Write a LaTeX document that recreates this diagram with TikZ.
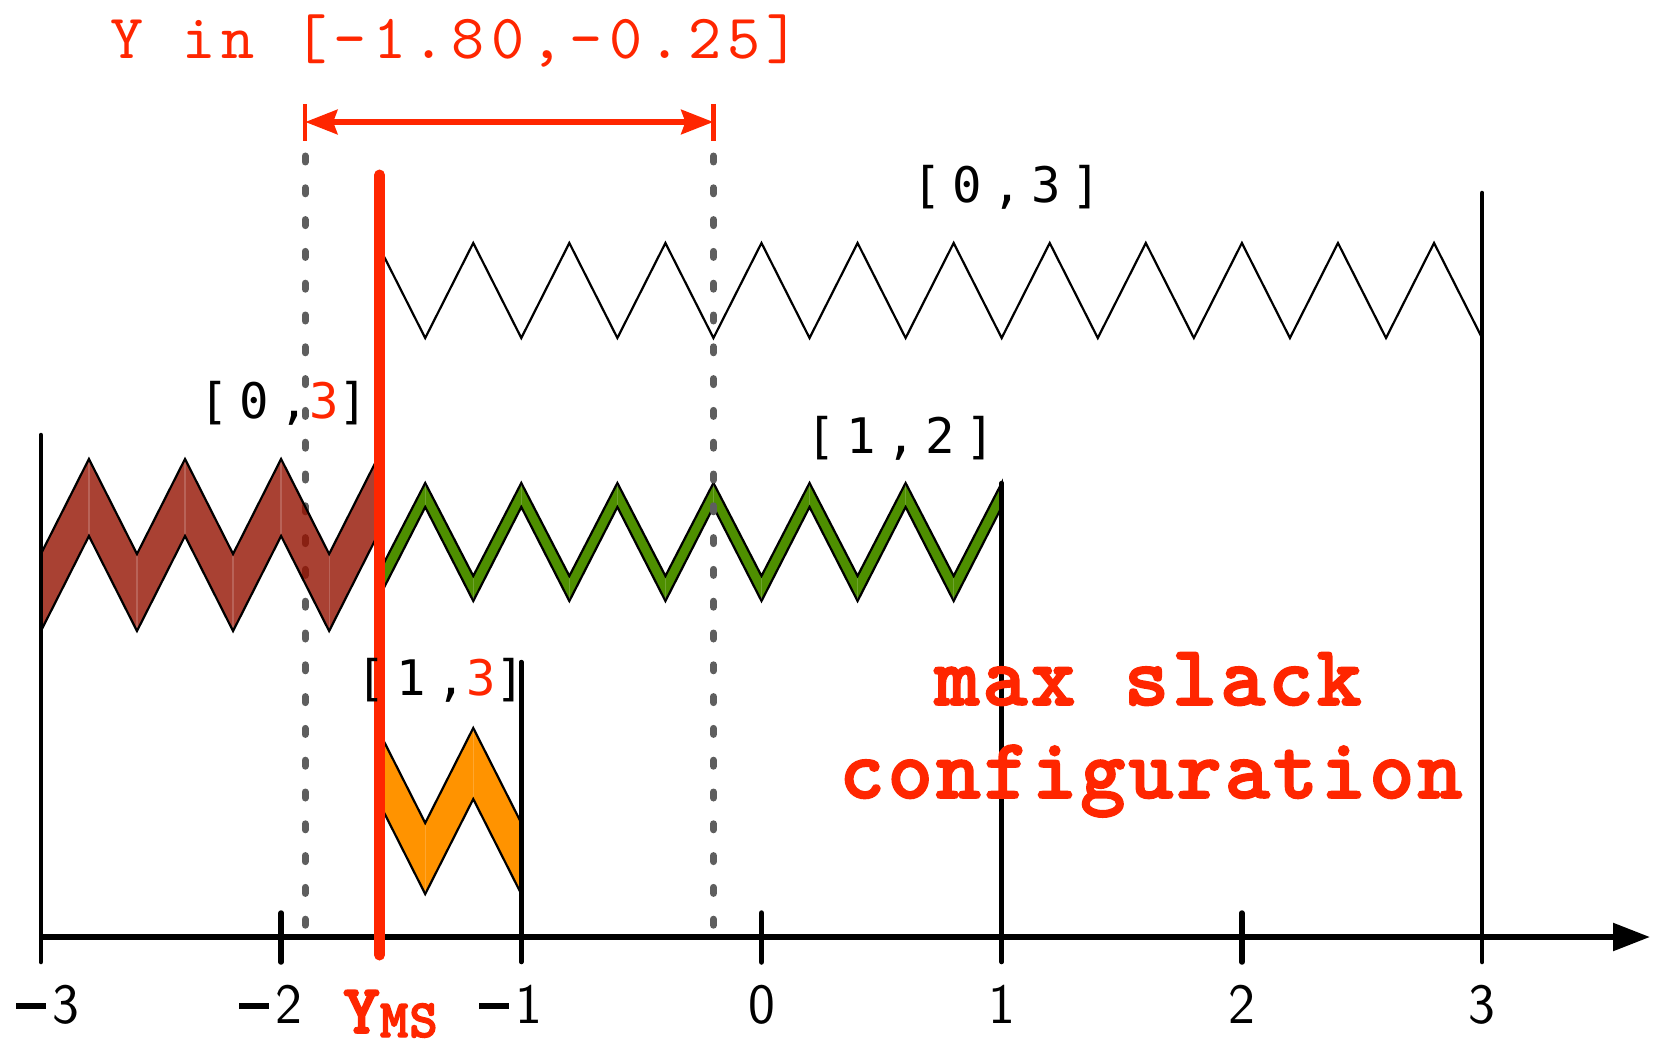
\documentclass[tikz,border=0pt]{standalone}
\usepackage{fontspec}
\usetikzlibrary{arrows.meta}
\newfontfamily\labelfont[LetterSpace=21]{DejaVu Sans Mono}
\newfontfamily\titlefont[Extension=.otf, LetterSpace=10]{lmmono10-regular}
\newfontfamily\slackfont[Extension=.otf, LetterSpace=3.5, FakeBold=2]{lmmonolt10-bold}
\newfontfamily\ymsfont[Extension=.otf, FakeBold=2.5]{lmmonolt10-bold}
\newfontfamily\msfont[Extension=.otf, FakeBold=2.5, LetterSpace=2]{lmmonolt10-bold}
\definecolor{msred}{HTML}{FF2600}
\definecolor{cayenne}{HTML}{941100}
\definecolor{fern}{HTML}{4E8F00}
\definecolor{tangerine}{HTML}{FF9300}
\definecolor{iron}{HTML}{5E5E5E}
\newcommand\mns{\rule[0.25em]{0.52em}{0.1em}\kern0.12em}
\begin{document}
\begin{tikzpicture}[x=1pt,y=-1pt,
  axisline/.style={line width=5.5pt, line cap=round},
  bound/.style={line width=4.5pt, line cap=round},
  springline/.style={line width=2.2pt, line join=miter},
  seam/.style={white, opacity=0.18, line width=1.2pt},
  guide/.style={iron, line width=7pt, line cap=round, dash pattern=on 6pt off 25.8pt},
  intlabel/.style={font=\labelfont\fontsize{49}{52}\selectfont, anchor=base, inner sep=0pt},
  ticklabel/.style={font=\sffamily\fontsize{57}{60}\selectfont, anchor=base, inner sep=0pt},
  redtext/.style={text=msred, anchor=base, inner sep=0pt},
  redtip/.tip={Stealth[length=32pt,width=24pt,inset=4pt]},
]
\useasboundingbox (0,0) rectangle (1663,1043);
\begin{scope}[shift={(761.5,0)}, x=240.2pt]
  % top spring [0,3]
  \draw[springline] (-1.6,243) \foreach \i in {0,...,10} { -- ({-1.4+0.4*\i},338) -- ({-1.2+0.4*\i},243) } -- (3.0,338);
  % green spring [1,2]
  \filldraw[springline, fill=fern] (-1.6,576)
     \foreach \i in {0,...,5} { -- ({-1.4+0.4*\i},483) -- ({-1.2+0.4*\i},576) } -- (1.0,483)
     -- (1.0,507) \foreach \i in {0,...,5} { -- ({0.8-0.4*\i},601) -- ({0.6-0.4*\i},507) } -- (-1.6,601) -- cycle;
  \foreach \i in {0,...,5} {
    \draw[seam] ({-1.4+0.4*\i},485) -- ({-1.4+0.4*\i},505);
    \draw[seam] ({-1.2+0.4*\i},578) -- ({-1.2+0.4*\i},599);
  }
  % orange spring [1,3]
  \filldraw[springline, fill=tangerine] (-1.6,728) -- (-1.4,823) -- (-1.2,728) -- (-1.0,823)
     -- (-1.0,894) -- (-1.2,799) -- (-1.4,894) -- (-1.6,799) -- cycle;
  \draw[seam] (-1.4,825) -- (-1.4,892);
  \draw[seam] (-1.2,730) -- (-1.2,797);
  % dotted guides
  \draw[guide] (-1.9,156) -- (-1.9,935);
  \draw[guide] (-0.2,156) -- (-0.2,935);
  % brown spring [0,3]
  \fill[cayenne, fill opacity=0.8] (-3,554)
     \foreach \i in {0,...,2} { -- ({-2.8+0.4*\i},459) -- ({-2.6+0.4*\i},554) } -- (-1.6,459)
     -- (-1.6,536) \foreach \i in {0,...,2} { -- ({-1.8-0.4*\i},631) -- ({-2.0-0.4*\i},536) } -- (-3,631) -- cycle;
  \foreach \i in {0,...,2} {
    \draw[seam] ({-2.8+0.4*\i},461) -- ({-2.8+0.4*\i},534);
    \draw[seam] ({-2.6+0.4*\i},556) -- ({-2.6+0.4*\i},629);
  }
  \draw[springline] (-3,554) \foreach \i in {0,...,2} { -- ({-2.8+0.4*\i},459) -- ({-2.6+0.4*\i},554) } -- (-1.6,459);
  \draw[springline] (-3,631) \foreach \i in {0,...,2} { -- ({-2.8+0.4*\i},536) -- ({-2.6+0.4*\i},631) } -- (-1.6,536);
  % bounds
  \draw[bound] (-3,435) -- (-3,962);
  \draw[bound] (-1,662) -- (-1,962);
  \draw[bound] (1,483) -- (1,962);
  \draw[bound] (3,193) -- (3,962);
  % axis
  \draw[line width=5.5pt, -{Triangle[length=37pt,width=27pt]}] (-3,937) -- (3.699,937);
  \foreach \t in {-2,0,2} \draw[axisline] (\t,913) -- (\t,962);
  % Y_MS line
  \draw[msred, line width=11pt, line cap=round] (-1.59,175) -- (-1.59,955);
  % interval bar
  \draw[msred, line width=6.5pt, redtip-redtip] (-1.9,122) -- (-0.2,122);
  \draw[msred, line width=4.5pt] (-1.9,104) -- (-1.9,141);
  \draw[msred, line width=4.5pt] (-0.2,104) -- (-0.2,141);
\end{scope}
% tick labels
\node[ticklabel] (tickm3) at (48,1023) {\mns 3};
\node[ticklabel] (tickm2) at (271,1023) {\mns 2};
\node[ticklabel] (tickm1) at (511,1023) {\mns 1};
\node[ticklabel] (tick0) at (761.5,1023) {0};
\node[ticklabel] (tick1) at (1001.7,1023) {1};
\node[ticklabel] (tick2) at (1241.9,1023) {2};
\node[ticklabel] (tick3) at (1482.1,1023) {3};
% texts
\node[redtext, font=\titlefont\fontsize{63}{66}\selectfont] (title) at (455,59) {Y in [-1.80,-0.25]};
\node[intlabel] (l03top) at (1007,203) {[0,3]};
\node[intlabel] (l03) at (284,418) {[0,\textcolor{msred}{3}]};
\node[intlabel] (l12) at (901,453) {[1,2]};
\node[intlabel] (l13) at (441,695) {[1,\textcolor{msred}{3}]};
\node[redtext, font=\slackfont\fontsize{86}{92}\selectfont] (ms1) at (1148,705) {max slack};
\node[redtext, font=\slackfont\fontsize{86}{92}\selectfont] (ms2) at (1151,798) {configuration};
\node[redtext, anchor=base west] (yms) at (343,1033)
  {\ymsfont\fontsize{70}{70}\selectfont Y\raisebox{-4pt}{\msfont\fontsize{54}{54}\selectfont MS}};
\end{tikzpicture}
\end{document}
